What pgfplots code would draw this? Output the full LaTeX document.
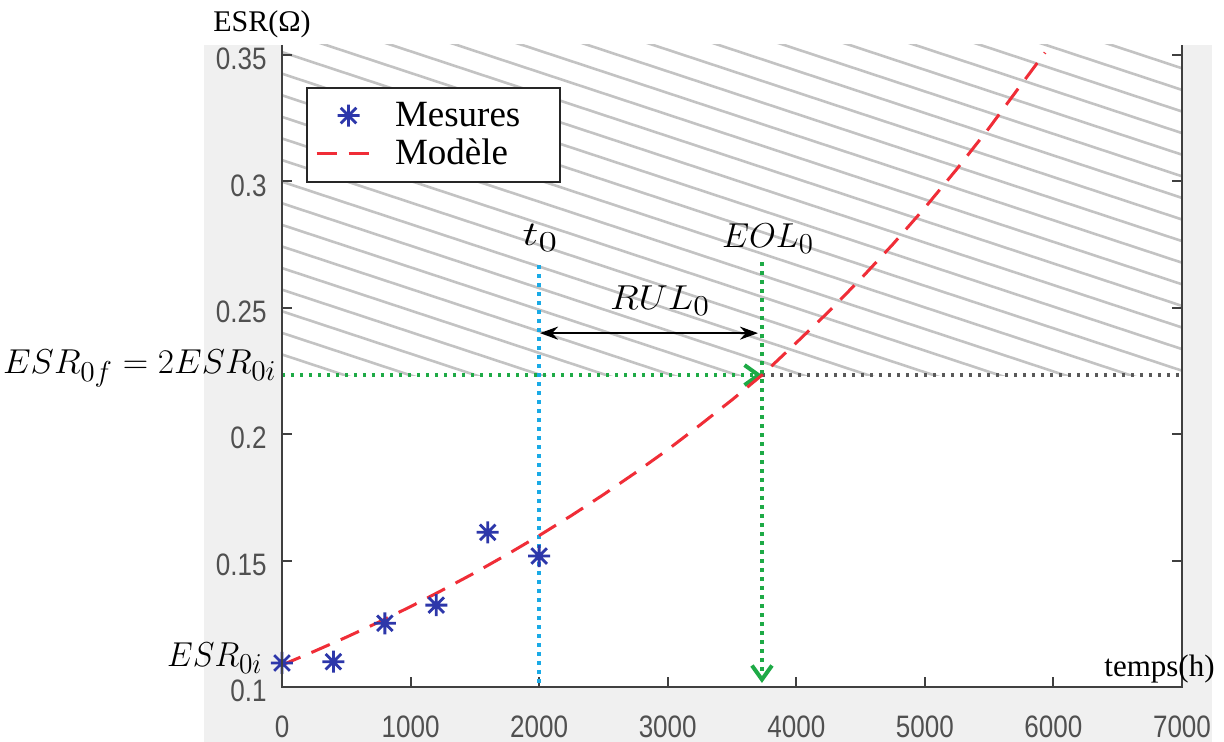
\documentclass[border=0pt]{standalone}
\usepackage{fontspec}
\usepackage{graphicx}
\usepackage{pgfplots}
\pgfplotsset{compat=1.18}
\usetikzlibrary{arrows.meta}
\setmainfont{Liberation Serif}
\newfontfamily\tickfont[FakeStretch=0.84]{Liberation Sans}
\DeclareMathSizes{17.5}{17.5}{13.3}{10}
\definecolor{figbg}{RGB}{240,240,240}
\definecolor{mblue}{RGB}{45,55,170}
\definecolor{mred}{RGB}{240,45,55}
\definecolor{dotblue}{RGB}{25,170,230}
\definecolor{dotgreen}{RGB}{30,170,70}
\definecolor{axgray}{RGB}{64,64,64}
\definecolor{hatch}{RGB}{195,195,195}
\definecolor{tickgray}{RGB}{80,80,80}
\newcommand\ml[2][1]{\scalebox{#1}[1]{$#2$}}
\pgfdeclareplotmark{star8}{%
  \pgfpathmoveto{\pgfqpoint{0pt}{\pgfplotmarksize}}%
  \pgfpathlineto{\pgfqpoint{0pt}{-\pgfplotmarksize}}%
  \pgfpathmoveto{\pgfqpoint{\pgfplotmarksize}{0pt}}%
  \pgfpathlineto{\pgfqpoint{-\pgfplotmarksize}{0pt}}%
  \pgfpathmoveto{\pgfqpoint{0.707\pgfplotmarksize}{0.707\pgfplotmarksize}}%
  \pgfpathlineto{\pgfqpoint{-0.707\pgfplotmarksize}{-0.707\pgfplotmarksize}}%
  \pgfpathmoveto{\pgfqpoint{-0.707\pgfplotmarksize}{0.707\pgfplotmarksize}}%
  \pgfpathlineto{\pgfqpoint{0.707\pgfplotmarksize}{-0.707\pgfplotmarksize}}%
  \pgfusepathqstroke}
\pgfplotsset{
  starlegend/.style={legend image code/.code={\path[draw=none] (0pt,0pt) -- (27.5pt,0pt); \draw[##1] plot[only marks] coordinates {(16pt,0pt)};}},
  dashlegend/.style={legend image code/.code={\draw[##1] (0pt,0pt) -- (27.5pt,0pt);}},
}
\tikzset{lbl/.style={inner sep=0pt, font=\fontsize{17.5}{20}\selectfont}}
\begin{document}
\begin{tikzpicture}
\path[use as bounding box] (-141pt,-27.5pt) rectangle (471pt,343.5pt);
\fill[figbg] (-39pt,-27.5pt) rectangle (465pt,321pt);
\fill[white] (0pt,0pt) rectangle (450pt,321pt);
\begin{scope}
\clip (0pt,155.95pt) rectangle (450pt,321pt);
\foreach \k in {0,...,30} {\draw[hatch, line width=1.3pt] (0pt,{457.85pt-\k*10.8pt}) -- ++(450pt,-148.5pt);}
\end{scope}
\begin{axis}[
  at={(0pt,0pt)}, anchor=south west,
  scale only axis, width=450pt, height=321pt,
  xmin=0, xmax=7000, ymin=0.1, ymax=0.354,
  axis line style={draw=none},
  clip=false,
  xtick={0,1000,2000,3000,4000,5000,6000,7000},
  ytick={0.1,0.15,0.2,0.25,0.3,0.35},
  scaled ticks=false,
  /pgf/number format/1000 sep={},
  /pgf/number format/assume math mode=true,
  tick align=inside,
  major tick length=5pt,
  xtick pos=left, ytick pos=both,
  tick style={axgray, line width=1pt},
  xticklabel style={font=\fontsize{15.5}{17}\tickfont, text=tickgray, anchor=north, inner sep=0pt, yshift=-14pt},
  yticklabel style={font=\fontsize{15.5}{17}\tickfont, text=tickgray, anchor=east, inner sep=0pt, xshift=-7.5pt, yshift=-2pt},
  legend style={at={(0.0267,0.9346)}, anchor=north west, draw=black!85, line width=1pt, fill=white,
    font=\fontsize{18.5}{21}\selectfont, inner xsep=4pt, inner ysep=5pt, row sep=1pt},
  legend cell align=left,
]
\addplot[forget plot, black!65, line width=1.6pt, dash pattern=on 1.6pt off 2.9pt] coordinates {(3733,0.2234) (7000,0.2234)};
\addplot[forget plot, dotblue, line width=1.7pt, dash pattern=on 1.7pt off 2.8pt] coordinates {(2000,0.2669) (2000,0.1)};
\addplot[forget plot, dotgreen, line width=1.7pt, dash pattern=on 1.7pt off 2.8pt, -{Straight Barb[length=7pt,width=10pt,line width=2pt]}] coordinates {(0,0.2234) (3733,0.2234)};
\addplot[forget plot, dotgreen, line width=1.7pt, dash pattern=on 1.7pt off 2.8pt, -{Straight Barb[length=7pt,width=10pt,line width=2pt]}] coordinates {(3733,0.2681) (3733,0.1016)};
\addplot[forget plot, black, line width=1.1pt, {Stealth[length=9pt,width=6.5pt]}-{Stealth[length=9pt,width=6.5pt]}] coordinates {(2007,0.2400) (3702,0.2400)};
\addplot[only marks, mark=star8, mark size=5.5pt, mblue, line width=1.4pt, starlegend]
  coordinates {(0,0.1095) (400,0.1100) (800,0.1252) (1200,0.1324) (1600,0.1612) (2000,0.1518)};
\addlegendentry{\hspace{9pt}Mesures\rule{14pt}{0pt}}
\addplot[mred, line width=1.5pt, dash pattern=on 10pt off 6pt, dashlegend]
  coordinates {(0,0.1087) (250,0.1141) (500,0.1197) (750,0.1256) (1000,0.1318) (1250,0.1384) (1500,0.1452) (1750,0.1524) (2000,0.1599) (2250,0.1678) (2500,0.1761) (2750,0.1848) (3000,0.1939) (3250,0.2036) (3500,0.2136) (3733,0.2234) (4000,0.2362) (4250,0.2484) (4500,0.2614) (4750,0.2751) (5000,0.2896) (5250,0.3050) (5500,0.3212) (5750,0.3384) (5935,0.3510)};
\addlegendentry{\hspace{9pt}Modèle}
\node[lbl, anchor=base] at (axis cs:2010,0.2748) {\ml[1.3]{t_0}};
\node[lbl, anchor=base] at (axis cs:3780,0.2740) {\ml{EOL_0}};
\node[lbl, anchor=base] at (axis cs:2940,0.2495) {\ml[1.1]{RUL_0}};
\node[lbl, anchor=base east] at (axis cs:-39,0.2242) {\ml[1.02]{ESR_{0f} = 2ESR_{0i}}};
\node[lbl, anchor=base east] at (axis cs:-148,0.1082) {\ml[0.95]{ESR_{0i}}};
\end{axis}
\draw[axgray, line width=1pt] (0pt,321pt) -- (0pt,0pt) -- (450pt,0pt) -- (450pt,321pt);
\node[anchor=base west, inner sep=0pt, font=\fontsize{15}{17}\selectfont] at (-34.5pt,327.5pt) {ESR(Ω)};
\node[anchor=base west, inner sep=0pt, font=\fontsize{15.5}{17}\selectfont] at (411pt,5pt) {temps(h)};
\end{tikzpicture}
\end{document}
